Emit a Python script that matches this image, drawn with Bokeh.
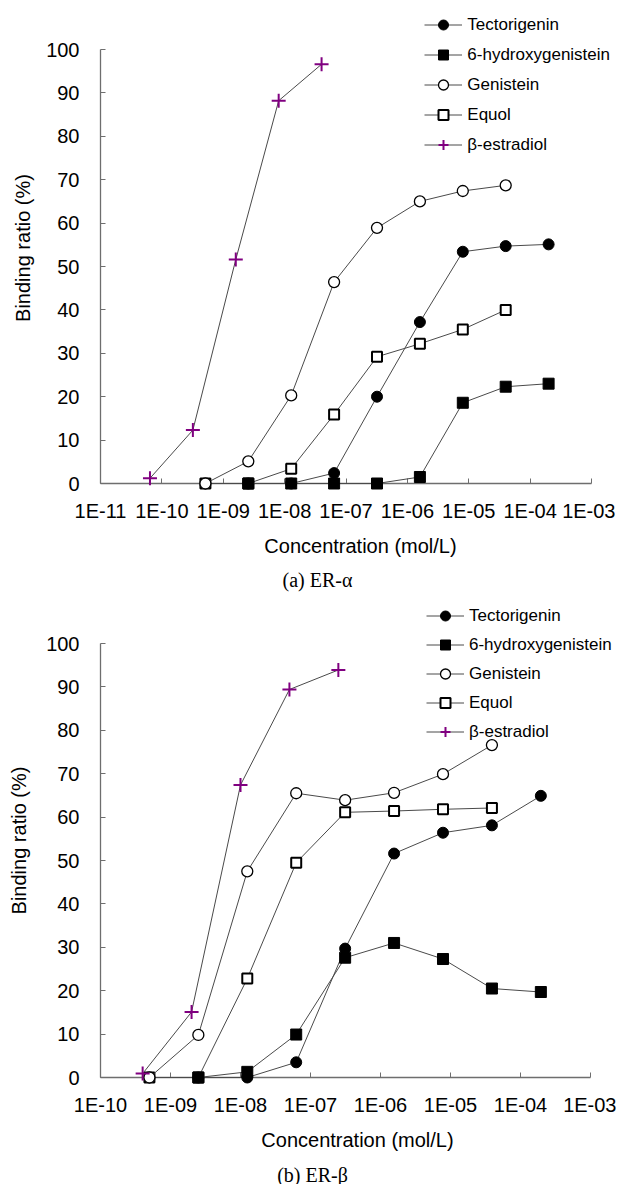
import math
from bokeh.plotting import figure
from bokeh.models import (Range1d, FixedTicker, CustomJSTickFormatter, Legend,
                          LegendItem, ColumnDataSource)
from bokeh.core.properties import value
from bokeh.layouts import column
from bokeh.embed import file_html
from bokeh.resources import INLINE

series_names = ["Tectorigenin", "6-hydroxygenistein", "Genistein", "Equol", "β-estradiol"]

# ---------------- (a) ER-alpha ----------------
a_conc = [5.12e-10, 2.56e-9, 1.28e-8, 6.4e-8, 3.2e-7, 1.6e-6, 8e-6, 4e-5, 2e-4]
a_estradiol_conc = [6.4e-11, 3.2e-10, 1.6e-9, 8e-9, 4e-8]
a_tectorigenin = [None, 0, 0, 2.4, 20.0, 37.2, 53.4, 54.7, 55.1]
a_hydroxygenistein = [None, 0, 0, 0, 0, 1.5, 18.6, 22.3, 23.0]
a_genistein = [0, 5.1, 20.3, 46.4, 58.9, 65.0, 67.4, 68.7, None]
a_equol = [0, 0, 3.4, 15.9, 29.2, 32.2, 35.5, 40.0, None]
a_estradiol = [1.2, 12.3, 51.6, 88.2, 96.6]
a_xticks = [1e-11, 1e-10, 1e-9, 1e-8, 1e-7, 1e-6, 1e-5, 1e-4, 1e-3]
a_xlabels = ["1E-11", "1E-10", "1E-09", "1E-08", "1E-07", "1E-06", "1E-05", "1E-04", "1E-03"]
a_caption = "(a) ER-α"

# ---------------- (b) ER-beta ----------------
b_conc = [5e-10, 2.5e-9, 1.25e-8, 6.25e-8, 3.125e-7, 1.5625e-6, 7.8125e-6, 3.90625e-5, 1.953125e-4]
b_estradiol_conc = [4e-10, 2e-9, 1e-8, 5e-8, 2.5e-7]
b_tectorigenin = [None, 0, 0, 3.5, 29.7, 51.6, 56.4, 58.1, 64.9]
b_hydroxygenistein = [None, 0, 1.3, 9.9, 27.6, 31.0, 27.3, 20.5, 19.7]
b_genistein = [0, 9.8, 47.5, 65.5, 63.9, 65.6, 69.9, 76.6, None]
b_equol = [0, 0, 22.8, 49.5, 61.1, 61.4, 61.8, 62.1, None]
b_estradiol = [0.9, 15.1, 67.4, 89.4, 93.9]
b_xticks = [1e-10, 1e-9, 1e-8, 1e-7, 1e-6, 1e-5, 1e-4, 1e-3]
b_xlabels = ["1E-10", "1E-09", "1E-08", "1E-07", "1E-06", "1E-05", "1E-04", "1E-03"]
b_caption = "(b) ER-β"

y_ticks = [0, 10, 20, 30, 40, 50, 60, 70, 80, 90, 100]
x_title = "Concentration (mol/L)"
y_title = "Binding ratio (%)"

SANS = "Liberation Sans"
SERIF = "Liberation Serif"
LINE_COLOR = "#4a4a4a"
AXIS_COLOR = "#6e6e6e"
PURPLE = "#800080"

label_js = """
let best = 0, bd = Infinity;
for (let i = 0; i < tick_vals.length; i++) {
  const d = Math.abs(Math.log10(tick_vals[i]) - Math.log10(tick));
  if (d < bd) { bd = d; best = i; }
}
return tick_text[best];
"""


def pairs(xs, ys):
    px, py = [], []
    for x, y in zip(xs, ys):
        if y is not None:
            px.append(x)
            py.append(y)
    return px, py


def make_panel(conc, e_conc, tect, hydro, geni, equol, estra, xticks, xlabels, caption,
               axis_w, axis_h, extra_right, extra_top, left, right, top, bottom,
               ylab_standoff, leg_x, leg_spacing, cap_dx, cap_dy):
    # frame = axis area (axis_w x axis_h px) plus blank room for the legend
    decades = math.log10(xticks[-1]) - math.log10(xticks[0])
    px_dec = axis_w / decades
    x_end = 10 ** (math.log10(xticks[-1]) + extra_right / px_dec)
    px_unit = axis_h / 100.0
    y_end = 100 + extra_top / px_unit
    fw = axis_w + extra_right
    fh = axis_h + extra_top

    p = figure(frame_width=fw, frame_height=fh, x_axis_type="log",
               x_range=Range1d(xticks[0], x_end), y_range=Range1d(0, y_end),
               output_backend="svg", toolbar_location=None, title=None,
               min_border_left=left, min_border_right=right, min_border_top=top,
               min_border_bottom=bottom)
    p.outline_line_color = None
    p.xgrid.visible = False
    p.ygrid.visible = False
    p.background_fill_color = "white"
    p.border_fill_color = "white"

    # axes
    xa = p.xaxis[0]
    xa.ticker = FixedTicker(ticks=xticks, minor_ticks=[])
    xa.formatter = CustomJSTickFormatter(args=dict(tick_vals=xticks, tick_text=xlabels),
                                         code=label_js)
    xa.bounds = (xticks[0], xticks[-1])
    ya = p.yaxis[0]
    ya.ticker = FixedTicker(ticks=y_ticks, minor_ticks=[])
    ya.bounds = (y_ticks[0], y_ticks[-1])
    for ax in (xa, ya):
        ax.axis_line_color = AXIS_COLOR
        ax.axis_line_width = 1.3
        ax.major_tick_line_color = AXIS_COLOR
        ax.major_tick_line_width = 1
        ax.major_tick_in = 5
        ax.major_tick_out = 0
        ax.minor_tick_line_color = None
        ax.major_label_text_font = SANS
        ax.major_label_text_font_size = "20px"
        ax.major_label_text_color = "black"
        ax.axis_label_text_font = SANS
        ax.axis_label_text_font_size = "20px"
        ax.axis_label_text_font_style = "normal"
        ax.axis_label_text_color = "black"
    xa.axis_label = x_title
    xa.major_label_standoff = 16
    xa.axis_label_standoff = 10
    ya.axis_label = y_title
    ya.major_label_standoff = 21
    ya.axis_label_standoff = ylab_standoff

    # data (overlay level so markers sitting on the axis stay whole)
    def series(xs, ys, marker, size, fill, lcolor, lw):
        x, y = pairs(xs, ys)
        lr = p.line(x, y, line_color=LINE_COLOR, line_width=1, level="overlay")
        sr = p.scatter(x, y, marker=marker, size=size, fill_color=fill,
                       line_color=lcolor, line_width=lw, level="overlay")
        return [lr, sr]

    r_equol = series(conc, equol, "square", 10, "white", "black", 2)
    r_geni = series(conc, geni, "circle", 11, "white", "black", 1.3)
    r_tect = series(conc, tect, "circle", 11, "black", "black", 1)
    r_hydro = series(conc, hydro, "square", 11, "black", "black", 1)
    r_estra = series(e_conc, estra, "cross", 14, PURPLE, PURPLE, 2)

    items = [LegendItem(label=n, renderers=r) for n, r in
             zip(series_names, [r_tect, r_hydro, r_geni, r_equol, r_estra])]
    n = len(items)
    leg_h = n * 25 + (n - 1) * leg_spacing
    leg = Legend(items=items, location=(leg_x, fh - leg_h), orientation="vertical",
                 glyph_width=38, glyph_height=25, label_height=25, spacing=leg_spacing,
                 label_standoff=5, padding=0, margin=0,
                 border_line_color=None, background_fill_alpha=0,
                 label_text_font=SANS, label_text_font_size="17px",
                 label_text_color="black")
    p.add_layout(leg, "center")

    # caption below the axis, anchored to the axes origin, offset in pixels
    cap_src = ColumnDataSource(dict(x=[xticks[0]], y=[y_ticks[0]], t=[caption]))
    p.text(x="x", y="y", text="t", source=cap_src, x_offset=cap_dx, y_offset=cap_dy,
           text_font=value(SERIF), text_font_size="20px", text_align="center",
           text_baseline="middle", text_color="black", level="overlay")
    return p


p1 = make_panel(a_conc, a_estradiol_conc, a_tectorigenin, a_hydroxygenistein, a_genistein,
                a_equol, a_estradiol, a_xticks, a_xlabels, a_caption,
                axis_w=491, axis_h=434, extra_right=29, extra_top=37, left=95, right=0,
                top=12, bottom=120, ylab_standoff=9, leg_x=332, leg_spacing=5,
                cap_dx=217, cap_dy=96)
p2 = make_panel(b_conc, b_estradiol_conc, b_tectorigenin, b_hydroxygenistein, b_genistein,
                b_equol, b_estradiol, b_xticks, b_xlabels, b_caption,
                axis_w=490, axis_h=434, extra_right=24, extra_top=40, left=100, right=2,
                top=0, bottom=107, ylab_standoff=13, leg_x=326, leg_spacing=4,
                cap_dx=212, cap_dy=97)

layout = column(p1, p2)
open("out.html", "w").write(file_html(layout, INLINE))
